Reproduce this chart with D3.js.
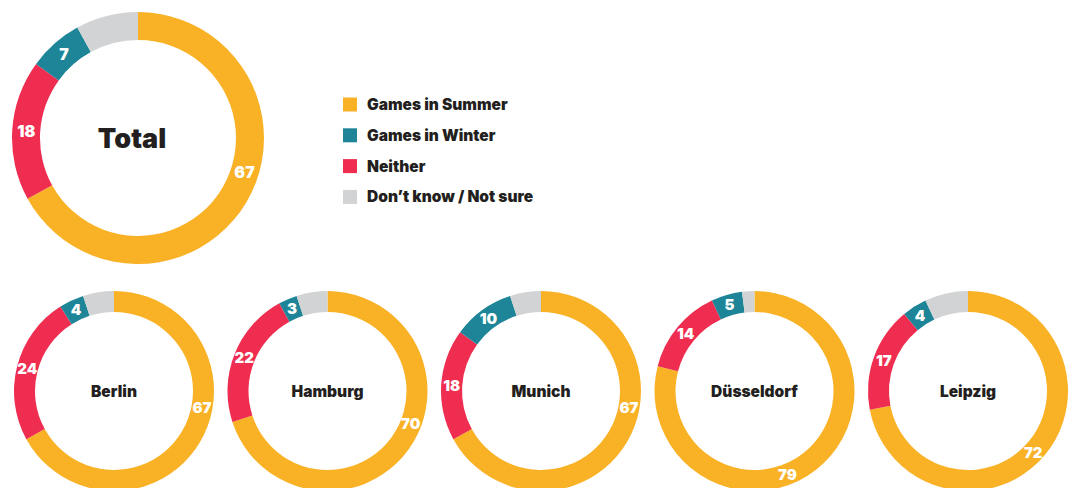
<!DOCTYPE html>
<html>
<head>
<meta charset="utf-8">
<script src="https://cdn.jsdelivr.net/npm/d3@7"></script>
<style>
  html, body { margin: 0; padding: 0; background: #fff; }
  svg { display: block; }
  text { font-family: Inter, "Noto Sans", sans-serif; }
</style>
</head>
<body>
<svg id="chart" width="1073" height="488"></svg>
<script>
// Survey answers (percent) per region
const regions = ["Total", "Berlin", "Hamburg", "Munich", "Düsseldorf", "Leipzig"];
const answers = ["Games in Summer", "Games in Winter", "Neither", "Don’t know / Not sure"];
const summer = [67, 67, 70, 67, 79, 72];
const winter = [7, 4, 3, 10, 5, 4];
const neither = [18, 24, 22, 18, 14, 17];
const dontKnow = [8, 5, 5, 5, 2, 7];

// Where the summer label sits along the ring (percent of a full turn, from 12 o'clock)
const summerLabelTurn = [30, 28, 31, 28, 44, 37];

const colors = {
  "Games in Summer": "#F9B126",
  "Games in Winter": "#1D8597",
  "Neither": "#EE2D50",
  "Don’t know / Not sure": "#D1D3D4"
};

const svg = d3.select("#chart");

// Slices run clockwise from the top: summer, neither, winter, don't know
const sliceOrder = ["Games in Summer", "Neither", "Games in Winter", "Don’t know / Not sure"];

function regionData(i) {
  const v = {
    "Games in Summer": summer[i],
    "Games in Winter": winter[i],
    "Neither": neither[i],
    "Don’t know / Not sure": dontKnow[i]
  };
  return sliceOrder.map(k => ({ key: k, value: v[k] }));
}

const pie = d3.pie().sort(null).value(d => d.value);

function drawDonut(i, cx, cy, rOuter, rInner, titleSize, labelSize, titleShift) {
  const g = svg.append("g").attr("transform", `translate(${cx},${cy})`);
  const arcs = pie(regionData(i));
  const arc = d3.arc().innerRadius(rInner).outerRadius(rOuter);
  g.selectAll("path")
    .data(arcs)
    .join("path")
    .attr("d", arc)
    .attr("fill", d => colors[d.data.key]);

  const rMid = (rInner + rOuter) / 2;
  const turn = d3.scaleLinear().domain([0, 100]).range([0, 2 * Math.PI]);
  g.selectAll("text.val")
    .data(arcs.filter(d => d.data.key !== "Don’t know / Not sure"))
    .join("text")
    .attr("class", "val")
    .attr("transform", d => {
      const a = d.data.key === "Games in Summer"
        ? turn(summerLabelTurn[i])
        : (d.startAngle + d.endAngle) / 2;
      return `translate(${rMid * Math.sin(a)},${-rMid * Math.cos(a)})`;
    })
    .attr("text-anchor", "middle")
    .attr("dy", "0.36em")
    .attr("fill", "#fff")
    .attr("font-size", labelSize)
    .attr("font-weight", 900)
    .text(d => d.data.value);

  g.append("text")
    .attr("x", titleShift)
    .attr("text-anchor", "middle")
    .attr("dy", "0.36em")
    .attr("fill", "#231F20")
    .attr("font-size", titleSize)
    .attr("font-weight", 900)
    .text(regions[i]);
}

// Large total ring
drawDonut(0, 138, 138, 126, 98, 27, 16, -6);

// City rings
const cityX = d3.scalePoint().domain(regions.slice(1)).range([114, 968]);
regions.slice(1).forEach((name, j) => {
  drawDonut(j + 1, cityX(name), 391, 100, 79, 15.5, 15, 0);
});

// Legend
const legend = svg.append("g").attr("transform", "translate(343,104.5)");
const rows = legend.selectAll("g")
  .data(answers)
  .join("g")
  .attr("transform", (d, k) => `translate(0,${k * 30.8})`);
rows.append("rect")
  .attr("x", 0).attr("y", -7)
  .attr("width", 14).attr("height", 14)
  .attr("fill", d => colors[d]);
rows.append("text")
  .attr("x", 24)
  .attr("dy", "0.36em")
  .attr("fill", "#231F20")
  .attr("font-size", 15.5)
  .attr("font-weight", 900)
  .text(d => d);
</script>
</body>
</html>
